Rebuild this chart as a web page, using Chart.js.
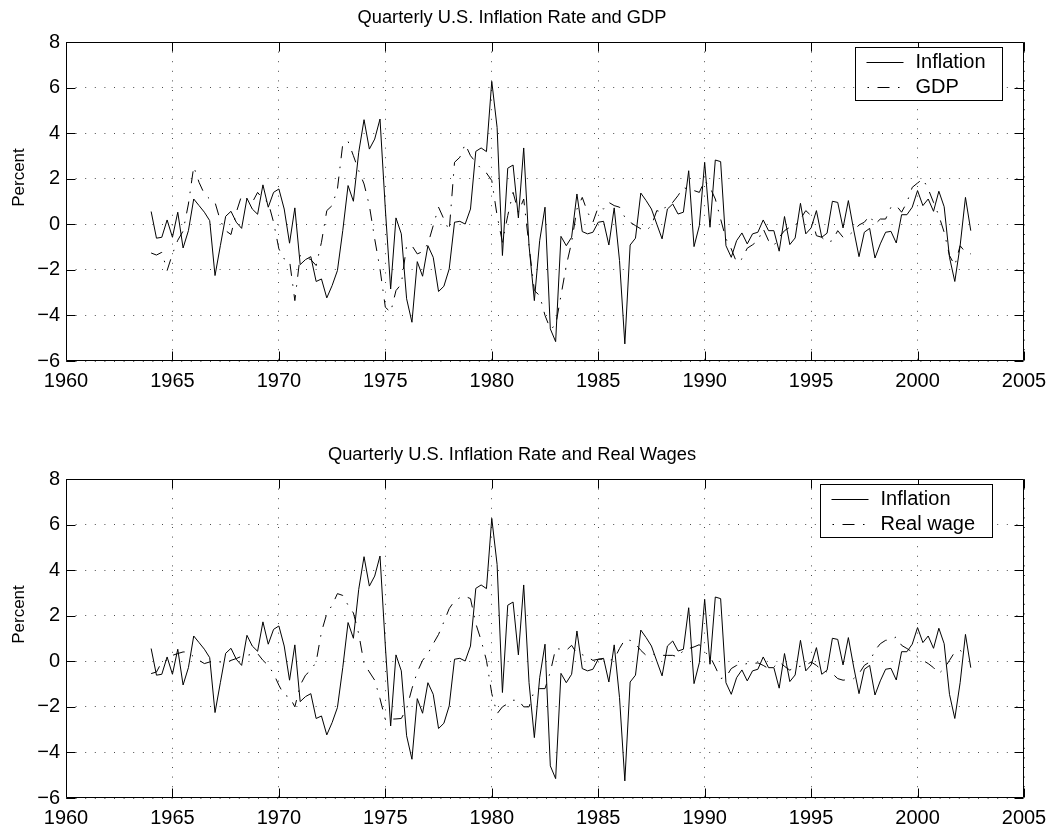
<!DOCTYPE html>
<html>
<head>
<meta charset="utf-8">
<title>Quarterly U.S. Inflation Rate, GDP and Real Wages</title>
<script src="https://cdn.jsdelivr.net/npm/chart.js@4.4.0/dist/chart.umd.min.js"></script>
<style>
  html, body { margin: 0; padding: 0; background: #fff; overflow: hidden; }
  .panel { position: absolute; left: 0; width: 1055px; height: 415px; }
</style>
</head>
<body>
<div class="panel" style="top:0"><canvas id="gdpChart" width="1055" height="415"></canvas></div>
<div class="panel" style="top:437px"><canvas id="wageChart" width="1055" height="415"></canvas></div>
<script>
// quarterly series, first quarter = 1964.0
var startYear = 1964;
var yearTicks = [1960, 1965, 1970, 1975, 1980, 1985, 1990, 1995, 2000, 2005];
var percentTicks = [-6, -4, -2, 0, 2, 4, 6, 8];

var inflation = [
  0.56, -0.61, -0.57, 0.19, -0.57, 0.53, -1.04, -0.28, 1.11, 0.82,
  0.53, 0.16, -2.25, -0.94, 0.35, 0.57, 0.09, -0.18, 1.14, 0.67,
  0.44, 1.73, 0.75, 1.40, 1.55, 0.67, -0.83, 0.72, -1.77, -1.55,
  -1.42, -2.51, -2.40, -3.23, -2.69, -2.03, -0.28, 1.70, 1.01, 3.16,
  4.59, 3.30, 3.74, 4.62, 0.67, -2.84, 0.28, -0.42, -3.27, -4.30,
  -1.64, -2.28, -0.94, -1.45, -2.95, -2.72, -1.96, 0.09, 0.13, 0.01,
  0.67, 3.20, 3.35, 3.19, 6.27, 4.25, -1.37, 2.46, 2.60, 0.28,
  3.35, -0.94, -3.35, -0.72, 0.75, -4.59, -5.15, -0.53, -0.94, -0.57,
  1.33, -0.32, -0.42, -0.35, 0.09, 0.13, -0.91, 0.72, -1.59, -5.25,
  -0.91, -0.61, 1.37, 1.04, 0.67, 0.01, -0.64, 0.67, 0.89, 0.45,
  0.53, 2.35, -0.98, -0.06, 2.72, -0.13, 2.82, 2.75, -0.94, -1.45,
  -0.72, -0.38, -0.86, -0.42, -0.35, 0.19, -0.28, -0.28, -1.18, 0.34,
  -0.89, -0.60, 0.92, -0.42, -0.16, 0.60, -0.57, -0.39, 1.01, 0.96,
  -0.16, 1.04, -0.25, -1.42, -0.35, -0.18, -1.48, -0.86, -0.35, -0.31,
  -0.82, 0.42, 0.42, 0.75, 1.48, 0.82, 1.11, 0.57, 1.45, 0.77,
  -1.45, -2.51, -0.94, 1.18, -0.28
];

var gdp = [
  -1.26, -1.35, -1.23, -2.03, -1.30, -0.70, -0.30, 0.89, 2.53, 1.84,
  1.33, 1.11, 0.96, 0.16, -0.28, -0.45, 0.53, 1.26, 1.11, 0.96,
  1.40, 1.11, 0.96, 0.09, -1.08, -1.52, -1.59, -3.35, -1.37, -1.45,
  -1.55, -1.81, -0.79, 0.60, 0.82, 1.55, 3.52, 3.64, 3.01, 2.35,
  1.77, 0.82, -0.64, -1.96, -3.64, -3.86, -2.91, -2.62, -0.94, -0.94,
  -1.30, -1.20, -0.86, -0.06, 0.75, 0.23, -0.28, 2.72, 2.94, 3.52,
  3.01, 2.72, 2.43, 2.25, 1.92, 0.38, -0.79, 0.38, 1.40, 0.53,
  1.11, -0.94, -2.91, -3.13, -4.00, -4.59, -4.44, -3.13, -1.81, -0.79,
  0.67, 1.18, 0.53, 0.09, 0.75, 0.67, 0.96, 0.82, 0.75, 0.31,
  0.09, -0.06, -0.20, -0.28, -0.06, 0.60, 0.53, 0.89, 0.96, 1.26,
  1.62, 1.52, 1.48, 1.40, 1.92, 1.62, 1.11, 0.23, -0.64, -1.08,
  -1.67, -1.52, -1.05, -0.90, -0.72, -0.20, -0.72, -0.94, -0.57, -0.28,
  -0.13, -0.06, 0.23, 0.60, 0.38, -0.50, -0.57, -0.79, -0.72, -0.28,
  -0.57, -0.50, -0.30, -0.03, 0.09, 0.38, 0.00, 0.23, 0.23, 0.75,
  0.82, 0.53, 0.96, 1.62, 1.81, 1.99, 1.55, 0.96, 0.38, -0.35,
  -1.37, -1.81, -0.94, -1.23, -1.30
];

var realWage = [
  -0.54, -0.47, -0.03, 0.04, 0.26, 0.34, 0.41, 0.41, 0.19, 0.04,
  -0.10, -0.03, -0.03, -0.03, -0.07, 0.04, 0.12, 0.22, 0.26, 0.31,
  0.34, 0.04, -0.18, -0.54, -1.05, -1.49, -1.56, -2.00, -1.05, -0.61,
  -0.39, -0.03, 1.29, 2.09, 2.46, 2.97, 2.89, 2.46, 2.12, 1.21,
  -0.10, -0.47, -0.83, -1.64, -2.56, -2.54, -2.53, -2.51, -2.08, -1.20,
  -0.47, 0.04, 0.34, 0.77, 1.18, 1.73, 2.31, 2.65, 2.79, 2.85,
  2.75, 1.65, 0.92, 0.04, -1.42, -2.30, -2.00, -1.86, -1.71, -1.71,
  -2.00, -2.00, -1.27, -1.20, -1.20, -0.47, 0.56, 0.53, 0.48, 0.70,
  0.34, 0.29, 0.19, 0.04, 0.09, 0.09, 0.04, 0.09, 0.56, 0.95,
  0.92, 0.77, 0.48, 0.26, 0.34, 0.26, 0.26, 0.26, 0.26, 0.19,
  0.48, 0.56, 0.63, 0.73, 0.41, 0.22, -0.25, -0.76, -0.69, -0.32,
  -0.18, -0.15, -0.10, -0.10, -0.07, -0.18, -0.32, -0.25, -0.03, -0.22,
  -0.39, -0.25, -0.22, -0.18, -0.03, -0.18, -0.39, -0.47, -0.54, -0.76,
  -0.83, -0.80, -0.76, -0.54, -0.18, -0.03, 0.48, 0.77, 0.92, 0.95,
  1.07, 0.70, 0.56, 0.41, 0.19, 0.04, -0.10, -0.28, -0.54, -0.32,
  0.04, 0.41, 0.48, 0.30, null
];

var dashDot = [12, 8.5, 1.5, 8.5];
var fontFamily = '"Liberation Sans", Arial, Helvetica, sans-serif';
Chart.defaults.font.family = fontFamily;
Chart.defaults.color = '#000';

function toPoints(values) {
  return values.map(function(v, i) { return { x: startYear + i / 4, y: v }; });
}

function minusSign(v) {
  return v < 0 ? '\u2212' + Math.abs(v) : String(v);
}

// box round the axes with inward ticks on all four sides, plus the y label
var frame = {
  id: 'frame',
  afterDraw: function(chart, args, opts) {
    var ctx = chart.ctx, a = chart.chartArea;
    var xs = chart.scales.x, ys = chart.scales.y;
    var L = Math.round(a.left) + 0.5, R = Math.round(a.right) - 0.5;
    var T = Math.round(a.top) + 0.5, B = Math.round(a.bottom) - 0.5;
    ctx.save();
    ctx.strokeStyle = '#000';
    ctx.lineWidth = 1;
    ctx.beginPath();
    ctx.rect(L, T, R - L, B - T);
    xs.ticks.forEach(function(t) {
      var x = Math.round(xs.getPixelForValue(t.value)) + 0.5;
      ctx.moveTo(x, B); ctx.lineTo(x, B - 9);
      ctx.moveTo(x, T); ctx.lineTo(x, T + 9);
    });
    ys.ticks.forEach(function(t) {
      var y = Math.round(ys.getPixelForValue(t.value)) + 0.5;
      ctx.moveTo(L, y); ctx.lineTo(L + 9, y);
      ctx.moveTo(R, y); ctx.lineTo(R - 9, y);
    });
    ctx.stroke();

    // y axis label, a little above the middle as in the original
    ctx.translate(19.5, (a.top + a.bottom) / 2 - 24);
    ctx.rotate(-Math.PI / 2);
    ctx.font = '17px ' + fontFamily;
    ctx.fillStyle = '#000';
    ctx.textAlign = 'center';
    ctx.textBaseline = 'middle';
    ctx.fillText(opts.yLabel, 0, 0);
    ctx.restore();
  }
};

// boxed legend in the top right corner of the axes
var boxLegend = {
  id: 'boxLegend',
  afterDraw: function(chart, args, opts) {
    var ctx = chart.ctx, a = chart.chartArea;
    var sets = chart.data.datasets;
    ctx.save();
    ctx.font = '20px ' + fontFamily;
    var w = 0;
    sets.forEach(function(d) { w = Math.max(w, ctx.measureText(d.label).width); });
    var bw = Math.round(60 + w + opts.padRight), bh = 53;
    var bx = Math.round(a.right - opts.right - bw) + 0.5;
    var by = Math.round(a.top + opts.top) + 0.5;
    ctx.fillStyle = '#fff';
    ctx.fillRect(bx, by, bw, bh);
    ctx.strokeStyle = '#000';
    ctx.lineWidth = 1;
    ctx.strokeRect(bx, by, bw, bh);
    sets.forEach(function(d, i) {
      var y = Math.round(by + 14.5 + 25 * i) + 0.5;
      ctx.setLineDash(d.borderDash || []);
      ctx.lineDashOffset = d.borderDash ? 19.5 : 0;
      ctx.lineWidth = d.borderWidth;
      ctx.beginPath();
      ctx.moveTo(bx + 11, y);
      ctx.lineTo(bx + 48, y);
      ctx.stroke();
      ctx.setLineDash([]);
      ctx.fillStyle = '#000';
      ctx.textBaseline = 'middle';
      ctx.fillText(d.label, bx + 60, y);
    });
    ctx.restore();
  }
};

function makeChart(id, title, second, secondLabel, legendRight) {
  var gridStyle = { color: 'rgba(0,0,0,0.7)', lineWidth: 1, drawTicks: false };
  return new Chart(document.getElementById(id), {
    type: 'line',
    data: {
      datasets: [
        { label: 'Inflation', data: toPoints(inflation), borderColor: '#000', borderWidth: 1,
          pointRadius: 0, tension: 0 },
        { label: secondLabel, data: toPoints(second), borderColor: '#000', borderWidth: 1,
          borderDash: dashDot, pointRadius: 0, tension: 0 }
      ]
    },
    options: {
      responsive: false,
      animation: false,
      devicePixelRatio: 1,
      layout: { padding: { top: 0, right: 31, bottom: 0, left: 0 } },
      plugins: {
        legend: { display: false },
        tooltip: { enabled: false },
        title: {
          display: true, text: title, color: '#000',
          font: { size: 18.3, weight: 'normal' },
          padding: { top: 7, bottom: 13.04 }
        },
        frame: { yLabel: 'Percent' },
        boxLegend: { right: legendRight, top: 5, padRight: 17 }
      },
      scales: {
        x: {
          type: 'linear', min: 1960, max: 2005,
          afterBuildTicks: function(s) { s.ticks = yearTicks.map(function(v) { return { value: v }; }); },
          afterFit: function(s) { s.height = 54; },
          ticks: { color: '#000', font: { size: 20 }, padding: 8, maxRotation: 0, autoSkip: false,
                   callback: function(v) { return String(v); } },
          grid: gridStyle,
          border: { display: false, dash: [1, 8.6] }
        },
        y: {
          type: 'linear', min: -6, max: 8,
          afterBuildTicks: function(s) { s.ticks = percentTicks.map(function(v) { return { value: v }; }); },
          afterFit: function(s) { s.width = 66; },
          ticks: { color: '#000', font: { size: 20 }, padding: 6, autoSkip: false, callback: minusSign },
          grid: gridStyle,
          border: { display: false, dash: [1, 8.6] }
        }
      }
    },
    plugins: [frame, boxLegend]
  });
}

makeChart('gdpChart', 'Quarterly U.S. Inflation Rate and GDP', gdp, 'GDP', 22.3);
makeChart('wageChart', 'Quarterly U.S. Inflation Rate and Real Wages', realWage, 'Real wage', 32.3);
</script>
</body>
</html>
